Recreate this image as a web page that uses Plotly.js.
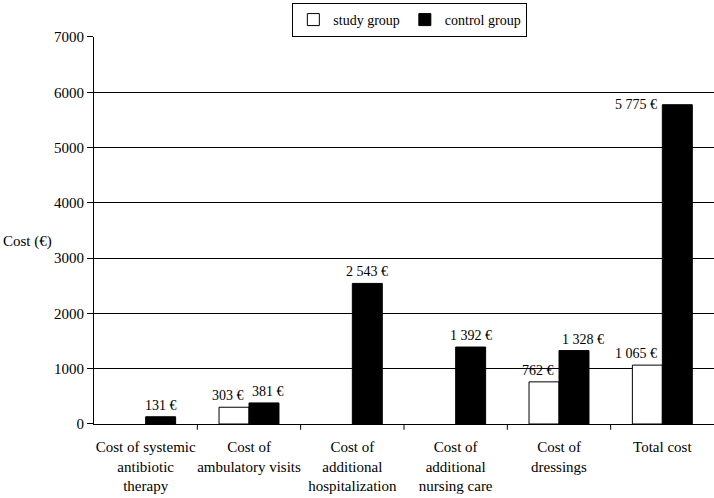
<!DOCTYPE html>
<html>
<head>
<meta charset="utf-8">
<script src="https://cdn.plot.ly/plotly-3.0.1.min.js"></script>
<style>
  html, body { margin: 0; padding: 0; background: #fff; }
  #chart { width: 714px; height: 498px; }
</style>
</head>
<body>
<div id="chart"></div>
<script>
const categories = [
    "Cost of systemic<br>antibiotic<br>therapy",
    "Cost of<br>ambulatory visits",
    "Cost of<br>additional<br>hospitalization",
    "Cost of<br>additional<br>nursing care",
    "Cost of<br>dressings",
    "Total cost"
];
// null = no value reported for the study group
const study_group = [null, 303, null, null, 762, 1065];
const control_group = [131, 381, 2543, 1392, 1328, 5775];
const y_ticks = [0, 1000, 2000, 3000, 4000, 5000, 6000, 7000];

const FONT = "Liberation Serif, serif";
const BAR_GAP = 0.42;
const HALF = (1 - BAR_GAP) / 4;

const format_euro = v => String(v).replace(/\B(?=(\d{3})+(?!\d))/g, " ") + " €";

const label_font = { family: FONT, size: 14, color: "#000" };

// study labels sit right-aligned against the middle of the group
const study_labels = study_group
    .map((v, i) => ({ v, i }))
    .filter(d => d.v)
    .map(d => ({
        x: d.i, y: d.v, xref: "x", yref: "y",
        text: format_euro(d.v),
        showarrow: false,
        xanchor: "right", xshift: -3,
        yanchor: "bottom", yshift: 2,
        font: label_font,
    }));

const control_labels = control_group
    .map((v, i) => ({ v, i }))
    .map(d => {
        const base = {
            x: d.i + HALF, y: d.v, xref: "x", yref: "y",
            text: format_euro(d.v),
            showarrow: false,
            yanchor: "bottom", yshift: 2,
            font: label_font,
        };
        if (d.v > 5000) {
            // tallest bar: label goes beside the top of the bar
            return { ...base, x: d.i, xanchor: "right", xshift: -3, yanchor: "top", yshift: 10 };
        }
        if (study_group[d.i]) {
            return { ...base, x: d.i, xanchor: "left", xshift: 1 };
        }
        return base;
    });

const study_bars = {
    name: "study group",
    x: categories.map((c, i) => i),
    y: study_group,
    type: "bar",
    marker: { color: "#fff", line: { color: "#000", width: 1 } },
};

const control_bars = {
    name: "control group",
    x: categories.map((c, i) => i),
    y: control_group,
    type: "bar",
    marker: { color: "#000", line: { color: "#000", width: 1 } },
};

const layout = {
    width: 714,
    height: 498,
    margin: { l: 94, r: 0, t: 36, b: 74 },
    paper_bgcolor: "#fff",
    plot_bgcolor: "#fff",
    font: { family: FONT, size: 15, color: "#000" },
    barmode: "group",
    bargap: BAR_GAP,
    bargroupgap: 0,
    showlegend: true,
    legend: {
        orientation: "h",
        xref: "container",
        yref: "container",
        x: 0.574,
        xanchor: "center",
        y: 0.994,
        yanchor: "top",
        bordercolor: "#000",
        borderwidth: 1,
        font: { family: FONT, size: 14, color: "#000" },
        itemwidth: 30,
        tracegroupgap: 0,
    },
    xaxis: {
        type: "linear",
        range: [-0.5, categories.length - 0.5],
        tickmode: "array",
        tickvals: categories.map((c, i) => i),
        ticktext: categories,
        tickangle: 0,
        ticks: "",
        showgrid: false,
        showline: true,
        linecolor: "#000",
        linewidth: 1,
        zeroline: false,
        ticklabelstandoff: 9,
        automargin: false,
        tickfont: { family: FONT, size: 15, color: "#000" },
    },
    yaxis: {
        range: [0, 7000],
        tickmode: "array",
        tickvals: y_ticks,
        ticks: "outside",
        ticklen: 6,
        tickcolor: "#000",
        showline: true,
        linecolor: "#000",
        linewidth: 1,
        showgrid: true,
        gridcolor: "#000",
        gridwidth: 1,
        zeroline: false,
        automargin: false,
        tickfont: { family: FONT, size: 15, color: "#000" },
    },
    shapes: categories.slice(1).map((c, i) => ({
        type: "line",
        xref: "x",
        yref: "paper",
        x0: i + 0.5,
        x1: i + 0.5,
        y0: 0,
        y1: -0.015,
        line: { color: "#000", width: 1 },
    })),
    annotations: [
        ...study_labels,
        ...control_labels,
        {
            text: "Cost (€)",
            xref: "paper",
            yref: "paper",
            x: -0.15,
            xanchor: "left",
            y: 0.472,
            yanchor: "middle",
            showarrow: false,
            font: { family: FONT, size: 15, color: "#000" },
        },
    ],
};

Plotly.newPlot("chart", [study_bars, control_bars], layout, { displayModeBar: false });
</script>
</body>
</html>
